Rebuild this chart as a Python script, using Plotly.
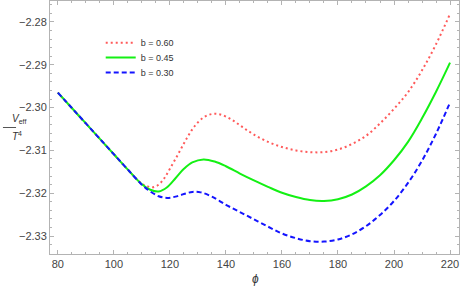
import plotly.graph_objects as go

# phi values and effective potential readings (V_eff / T^4)
phi_red = [80, 85, 90, 95, 100, 105, 110, 112, 114, 116, 118, 120, 123, 126, 129, 132, 135, 138, 142, 146,
           150, 155, 160, 165, 170, 175, 180, 185, 190, 195, 200, 205, 210, 215, 220]
v_red = [-2.2965, -2.3001, -2.3037, -2.3073, -2.3109, -2.3145, -2.3178, -2.3184, -2.3186, -2.3180, -2.3165,
         -2.3143, -2.3108, -2.3072, -2.3042, -2.3023, -2.3015, -2.3016, -2.3028, -2.3046,
         -2.3063, -2.3080, -2.3092, -2.3100, -2.3104, -2.3104, -2.3098, -2.3085, -2.3066, -2.3037,
         -2.3003, -2.2964, -2.2913, -2.2852, -2.2781]

phi_green = [80, 85, 90, 95, 100, 105, 110, 113, 116, 119, 122, 125, 128, 132, 136, 140, 145, 150, 155, 160,
             165, 170, 175, 180, 185, 190, 195, 200, 205, 210, 215, 220]
v_green = [-2.2965, -2.3001, -2.3037, -2.3073, -2.3109, -2.3145, -2.3179, -2.3192, -2.3196, -2.3186, -2.3165,
           -2.3143, -2.3128, -2.3121, -2.3126, -2.3137, -2.3154, -2.3170, -2.3185, -2.3199,
           -2.3209, -2.3216, -2.3218, -2.3214, -2.3203, -2.3184, -2.3158, -2.3123, -2.3080, -2.3025,
           -2.2963, -2.2895]

phi_blue = [80, 85, 90, 95, 100, 105, 110, 113, 116, 119, 122, 125, 128, 131, 135, 140, 145, 150, 155, 160,
            165, 170, 175, 180, 185, 190, 195, 200, 205, 210, 215, 220]
v_blue = [-2.2965, -2.3001, -2.3037, -2.3073, -2.3109, -2.3145, -2.3180, -2.3196, -2.3207, -2.3211, -2.3208,
          -2.3202, -2.3197, -2.3198, -2.3208, -2.3227, -2.3244, -2.3261, -2.3278, -2.3294,
          -2.3305, -2.3312, -2.3313, -2.3308, -2.3296, -2.3277, -2.3251, -2.3218, -2.3176, -2.3124,
          -2.3061, -2.2988]

labels = ["b = 0.60", "b = 0.45", "b = 0.30"]

fig = go.Figure()
fig.add_trace(go.Scatter(x=phi_red, y=v_red, mode="lines", name=labels[0], line_shape="spline",
                         legend="legend",
                         line=dict(color="rgb(255,90,90)", width=2, dash="2px,3px")))
fig.add_trace(go.Scatter(x=phi_green, y=v_green, mode="lines", name=labels[1], line_shape="spline",
                         legend="legend2",
                         line=dict(color="rgb(20,240,20)", width=2)))
fig.add_trace(go.Scatter(x=phi_blue, y=v_blue, mode="lines", name=labels[2], line_shape="spline",
                         legend="legend3",
                         line=dict(color="rgb(20,20,255)", width=2, dash="5px,3px")))

frame = "#b3b3b3"
fig.update_xaxes(range=[77.2, 223.2], showgrid=False, zeroline=False, showline=True, linecolor=frame,
                 linewidth=1, mirror="allticks", ticks="inside", ticklen=4, tickcolor=frame,
                 tick0=80, dtick=20, tickfont=dict(size=11, color="#444", family="Liberation Sans"),
                 minor=dict(ticks="inside", ticklen=2, tickcolor=frame, dtick=5, showgrid=False))
fig.update_yaxes(range=[-2.3342, -2.2751], showgrid=False, zeroline=False, showline=True, linecolor=frame,
                 linewidth=1, mirror="allticks", ticks="inside", ticklen=4, tickcolor=frame,
                 tick0=-2.33, dtick=0.01, tickformat=".2f",
                 tickfont=dict(size=11, color="#444", family="Liberation Sans"),
                 minor=dict(ticks="inside", ticklen=2, tickcolor=frame, dtick=0.002, showgrid=False))

fig.add_annotation(text="<i>V</i><sub>eff</sub>", xref="paper", yref="paper", x=-0.099, y=0.535,
                   showarrow=False, font=dict(size=10, color="#333", family="Liberation Sans"))
fig.add_shape(type="line", xref="paper", yref="paper", x0=-0.115, x1=-0.083, y0=0.5, y1=0.5,
              line=dict(color="#555", width=1))
fig.add_annotation(text="<i>T</i><sup>4</sup>", xref="paper", yref="paper", x=-0.099, y=0.465,
                   showarrow=False, font=dict(size=10, color="#333", family="Liberation Sans"))
fig.add_annotation(text="<i>ϕ</i>", xref="paper", yref="paper", x=0.502, y=-0.098, yanchor="middle",
                   showarrow=False, font=dict(size=12, color="#333", family="Liberation Sans"))

leg_common = dict(x=0.124, xanchor="left", yanchor="middle", bgcolor="rgba(0,0,0,0)",
                  font=dict(size=9, color="#333", family="Liberation Sans"), itemwidth=30)
fig.update_layout(width=461, height=286, margin=dict(l=50, r=2, t=1, b=32),
                  plot_bgcolor="white", paper_bgcolor="white", showlegend=True,
                  legend=dict(y=0.835, **leg_common),
                  legend2=dict(y=0.777, **leg_common),
                  legend3=dict(y=0.717, **leg_common))

fig.write_html("out.html", config={"displayModeBar": False},
               post_script="document.body.style.margin='0';")
